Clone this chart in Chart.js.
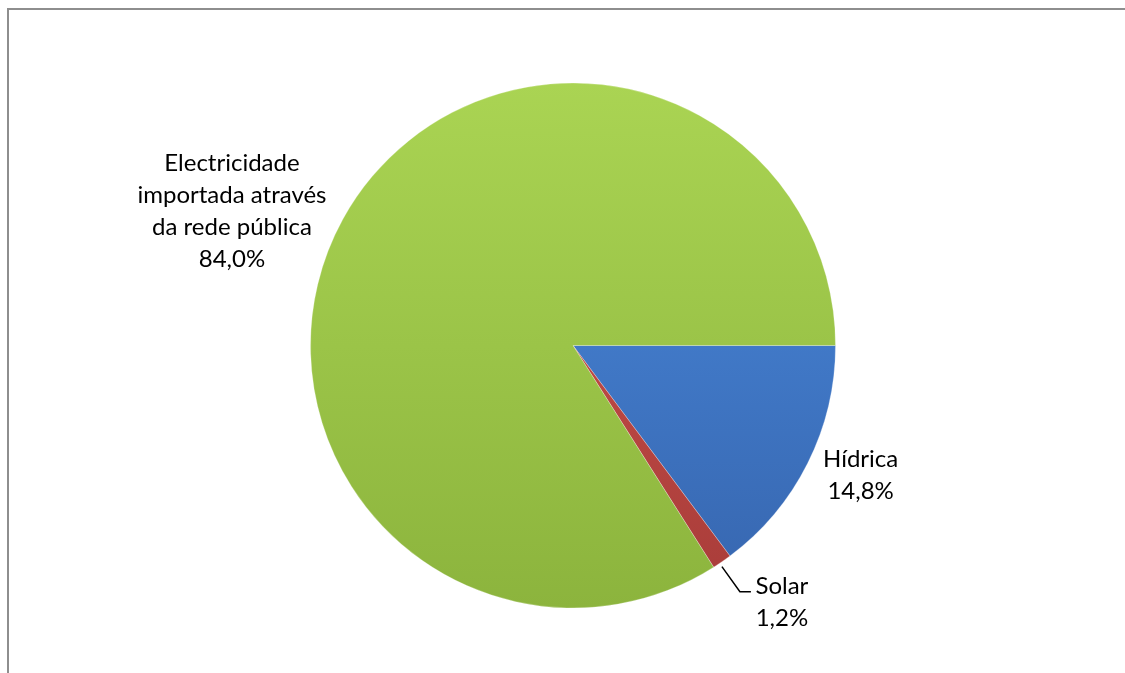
<!DOCTYPE html>
<html>
<head>
<meta charset="utf-8">
<script src="https://cdn.jsdelivr.net/npm/chart.js@4"></script>
<style>
  html, body { margin: 0; padding: 0; background: #fff; overflow: hidden; }
  #wrap { position: relative; width: 1125px; height: 673px; }
  #frame { position: absolute; left: 7px; top: 8px; width: 1200px; height: 800px;
           border-left: 2px solid #8e8e8e; border-top: 2px solid #8e8e8e; }
  canvas { position: absolute; left: 0; top: 0; }
</style>
</head>
<body>
<div id="wrap">
  <div id="frame"></div>
  <canvas id="pie" width="1125" height="673"></canvas>
</div>
<script>
// Daten
const categories = ['Hídrica', 'Solar', 'Electricidade importada através da rede pública'];
const values = [14.8, 1.2, 84.0];
const labelLines = [
  ['Hídrica', '14,8%'],
  ['Solar', '1,2%'],
  ['Electricidade', 'importada através', 'da rede pública', '84,0%']
];

// Farben (oben hell, unten dunkel)
const colorTop = ['#4b8ce0', '#d2554f', '#aad453'];
const colorBottom = ['#3665ae', '#a83c39', '#8cb43d'];

// Label-Versatz relativ zum Bogenrand
const labelOffset = [
  { dx: 53, dy: 12 },
  { dx: 60, dy: 41 },
  { dx: -111, dy: -8 }
];

function sliceFill(context) {
  const chart = context.chart;
  const area = chart.chartArea;
  if (!area) return colorBottom[context.dataIndex];
  const g = chart.ctx.createLinearGradient(0, area.top, 0, area.bottom);
  g.addColorStop(0, colorTop[context.dataIndex]);
  g.addColorStop(1, colorBottom[context.dataIndex]);
  return g;
}

const labelPlugin = {
  id: 'sliceLabels',
  afterDatasetsDraw(chart) {
    const ctx = chart.ctx;
    const meta = chart.getDatasetMeta(0);
    ctx.save();
    ctx.font = '24px Lato, "Open Sans", sans-serif';
    ctx.fillStyle = '#000';
    ctx.textAlign = 'center';
    ctx.textBaseline = 'middle';
    meta.data.forEach((arc, i) => {
      const p = arc.getProps(['x', 'y', 'startAngle', 'endAngle', 'outerRadius'], true);
      const mid = (p.startAngle + p.endAngle) / 2;
      const ex = p.x + Math.cos(mid) * p.outerRadius;
      const ey = p.y + Math.sin(mid) * p.outerRadius;
      const lx = ex + labelOffset[i].dx;
      const ly = ey + labelOffset[i].dy;
      const lines = labelLines[i];
      const lh = 32;
      const top = ly - (lines.length - 1) * lh / 2;
      lines.forEach((t, k) => ctx.fillText(t, lx, top + k * lh));
      if (i === 1) {
        // Führungslinie
        ctx.strokeStyle = '#000';
        ctx.lineWidth = 1.5;
        ctx.beginPath();
        ctx.moveTo(ex, ey + 5);
        ctx.lineTo(ex + 18, ey + 30);
        ctx.lineTo(ex + 29, ey + 30);
        ctx.stroke();
      }
    });
    ctx.restore();
  }
};

new Chart(document.getElementById('pie'), {
  type: 'pie',
  data: {
    labels: categories,
    datasets: [{
      data: values,
      backgroundColor: sliceFill,
      borderColor: 'rgba(255,255,255,0.25)',
      borderWidth: 1
    }]
  },
  options: {
    responsive: false,
    animation: false,
    rotation: 90,
    layout: { padding: { left: 310, right: 289, top: 82, bottom: 64 } },
    plugins: {
      legend: { display: false },
      tooltip: { enabled: false }
    }
  },
  plugins: [labelPlugin]
});
</script>
</body>
</html>
